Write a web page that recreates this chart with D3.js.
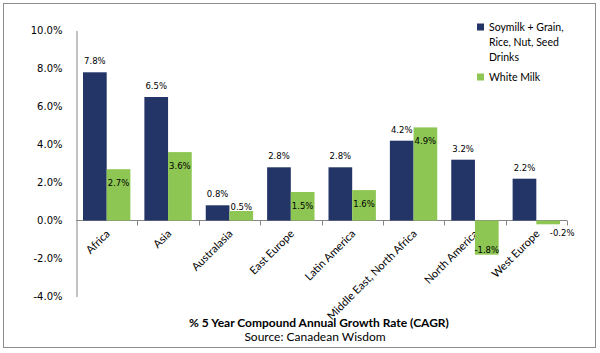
<!DOCTYPE html>
<html>
<head>
<meta charset="utf-8">
<script src="https://cdn.jsdelivr.net/npm/d3@7"></script>
<style>
  body { margin: 0; background: #fff; }
  svg text { font-family: "DejaVu Sans", sans-serif; fill: #000; }
</style>
</head>
<body>
<svg id="chart"></svg>
<script>
const regions = ["Africa", "Asia", "Australasia", "East Europe", "Latin America",
  "Middle East, North Africa", "North America", "West Europe"];
const soyValues = [7.8, 6.5, 0.8, 2.8, 2.8, 4.2, 3.2, 2.2];
const milkValues = [2.7, 3.6, 0.5, 1.5, 1.6, 4.9, -1.8, -0.2];
const seriesNames = [["Soymilk  + Grain,", "Rice, Nut, Seed", "Drinks"], ["White Milk"]];
const yTicks = [-4, -2, 0, 2, 4, 6, 8, 10];

const width = 600, height = 353;
const colors = ["#233466", "#8dc652"];

const svg = d3.select("#chart").attr("width", width).attr("height", height);

// outer frame
svg.append("rect")
  .attr("x", 3.5).attr("y", 3.5)
  .attr("width", 592).attr("height", 344)
  .attr("fill", "none").attr("stroke", "#8c8c8c");

const x = d3.scaleBand().domain(regions).range([76, 567]);
const y = d3.scaleLinear().domain([-4, 10]).range([296.5, 30.5]);

// y axis
const yAxis = svg.append("g")
  .attr("transform", "translate(76.5,0)")
  .call(d3.axisLeft(y).tickValues(yTicks).tickSize(0).tickPadding(14)
    .tickFormat(d => d.toFixed(1) + "%"));
yAxis.select(".domain").attr("stroke", "#868686");
yAxis.selectAll("text").style("font-size", "10px").attr("fill", "#000");

// x axis at zero
const xAxis = svg.append("g")
  .attr("transform", `translate(0,${y(0)})`);
xAxis.append("line")
  .attr("x1", 76).attr("x2", 567)
  .attr("stroke", "#868686");
xAxis.selectAll(".tk")
  .data(regions)
  .join("line")
  .attr("x1", d => Math.round(x(d) + x.bandwidth()) + 0.5)
  .attr("x2", d => Math.round(x(d) + x.bandwidth()) + 0.5)
  .attr("y1", 0).attr("y2", 5)
  .attr("stroke", "#868686");
xAxis.selectAll(".cat")
  .data(regions)
  .join("text")
  .attr("transform", d => `translate(${x(d) + x.bandwidth() / 2 + 4},${14}) rotate(-45)`)
  .attr("text-anchor", "end")
  .style("font-family", "Lato, sans-serif")
  .style("font-size", "11px")
  .text(d => d);

const inner = d3.scaleBand().domain([0, 1]).range([7, x.bandwidth() - 7]);

const series = [soyValues, milkValues];
series.forEach((vals, si) => {
  const g = svg.append("g");
  g.selectAll("rect")
    .data(regions)
    .join("rect")
    .attr("x", (d, i) => x(d) + inner(si))
    .attr("width", inner.bandwidth())
    .attr("y", (d, i) => y(Math.max(0, vals[i])))
    .attr("height", (d, i) => Math.abs(y(vals[i]) - y(0)))
    .attr("fill", colors[si]);

  g.selectAll("text")
    .data(regions)
    .join("text")
    .attr("x", (d, i) => x(d) + inner(si) + inner.bandwidth() / 2 + (si === 1 && vals[i] < 0 && Math.abs(y(vals[i]) - y(0)) < 10 ? 14 : 0))
    .attr("y", (d, i) => {
      const v = vals[i];
      const h = Math.abs(y(v) - y(0));
      if (si === 0) return y(v) - 8;
      if (v >= 0) return h > 20 ? y(v) + 17 : y(v) - 1;
      return h > 20 ? y(v) - 2 : y(v) + 12;
    })
    .attr("text-anchor", "middle")
    .style("font-size", "8.5px")
    .text((d, i) => vals[i].toFixed(1) + "%");
});

// legend
const legend = svg.append("g").attr("transform", "translate(477,27)");
const rowY = [0, 50];
seriesNames.forEach((lines, si) => {
  legend.append("rect")
    .attr("x", 0).attr("y", rowY[si] - 3.5)
    .attr("width", 7).attr("height", 7)
    .attr("fill", colors[si]);
  lines.forEach((t, li) => {
    legend.append("text")
      .attr("x", 12).attr("y", rowY[si] + li * 15 + 4)
      .style("font-family", "Lato, sans-serif")
      .style("font-size", "10.5px")
      .text(t);
  });
});

// titles
svg.append("text")
  .attr("x", 319).attr("y", 327)
  .attr("text-anchor", "middle")
  .style("font-family", "Lato, sans-serif")
  .style("font-weight", "bold")
  .style("font-size", "12px")
  .text("% 5 Year Compound Annual Growth Rate (CAGR)");
svg.append("text")
  .attr("x", 315).attr("y", 341)
  .attr("text-anchor", "middle")
  .style("font-family", "Lato, sans-serif")
  .style("font-size", "12px")
  .text("Source: Canadean Wisdom");
</script>
</body>
</html>
